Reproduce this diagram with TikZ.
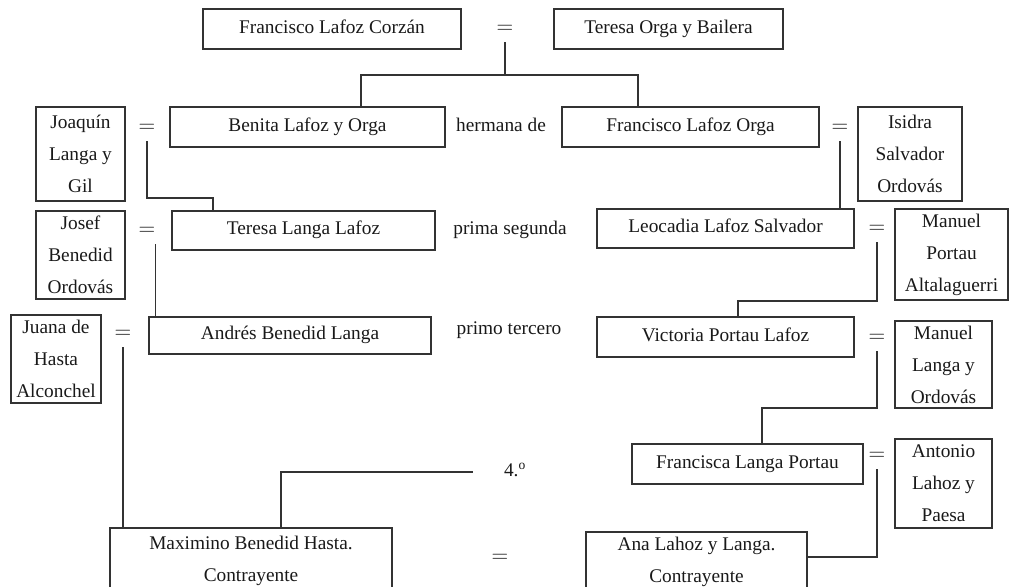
\documentclass[tikz,border=0pt]{standalone}
\usepackage{fontspec}
\setmainfont{Liberation Serif}
\usepackage{tikz}

\begin{document}
\begin{tikzpicture}[x=0.75pt,y=-0.75pt,
  every node/.style={font=\fontsize{14.5}{24}\selectfont, text=black!90},
  person/.style={draw=black!80, line width=0.8pt, inner sep=0pt, align=center},
  oneline/.style={text height=0.66em, text depth=0pt},
  eq/.style={inner sep=0pt, minimum height=19.5pt, minimum width=12pt, font=\fontsize{17}{20}\selectfont},
  link/.style={draw=black!80, line width=0.8pt}]
  \useasboundingbox (0,0) rectangle (1009,586);
  \clip (0,0) rectangle (1009,586);

  \node[person, oneline, minimum width=193.5pt, minimum height=30pt] (fLC) at (332,29) {Francisco Lafoz Corzán};
  \node[person, oneline, minimum width=171.75pt, minimum height=30pt] (tOB) at (668.5,29) {Teresa Orga y Bailera};
  \node[person, oneline, minimum width=206.25pt, minimum height=30pt] (bLO) at (307.5,127) {Benita Lafoz y Orga};
  \node[person, oneline, minimum width=192.75pt, minimum height=30pt] (fLO) at (690.5,127) {Francisco Lafoz Orga};
  \node[person, minimum width=66.75pt, minimum height=70.5pt] (jLG) at (80.5,154) {Joaquín\\Langa y\\Gil};
  \node[person, minimum width=78pt, minimum height=70.5pt] (iSO) at (910,154) {Isidra\\Salvador\\Ordovás};
  \node[person, oneline, minimum width=197.25pt, minimum height=29.25pt] (tLL) at (303.5,230.5) {Teresa Langa Lafoz};
  \node[person, oneline, minimum width=192.75pt, minimum height=29.25pt] (lLS) at (725.5,228.5) {Leocadia Lafoz Salvador};
  \node[person, minimum width=66.75pt, minimum height=66pt] (jBO) at (80.5,255) {Josef\\Benedid\\Ordovás};
  \node[person, minimum width=84.75pt, minimum height=68.25pt] (mPA) at (951.5,254.5) {Manuel\\Portau\\Altalaguerri};
  \node[person, oneline, minimum width=211.5pt, minimum height=27.75pt] (aBL) at (290,335.5) {Andrés Benedid Langa};
  \node[person, minimum width=67.5pt, minimum height=66pt] (jHA) at (56,359) {Juana de\\Hasta\\Alconchel};
  \node[person, oneline, minimum width=192.75pt, minimum height=30pt] (vPL) at (725.5,337) {Victoria Portau Lafoz};
  \node[person, minimum width=72.75pt, minimum height=65.25pt] (mLO) at (943.5,364.5) {Manuel\\Langa y\\Ordovás};
  \node[person, oneline, minimum width=173.25pt, minimum height=30pt] (fLP) at (747.5,464) {Francisca Langa Portau};
  \node[person, minimum width=72.75pt, minimum height=66.75pt] (aLP) at (943.5,483.5) {Antonio\\Lahoz y\\Paesa};
  \node[person, minimum width=211.5pt, minimum height=49.5pt] (mBH) at (251,561) {Maximino Benedid Hasta.\\Contrayente};
  \node[person, minimum width=165.75pt, minimum height=45pt] (aLL) at (696.5,562) {Ana Lahoz y Langa.\\Contrayente};

  \node[eq] (e1) at (505,29) {$=$};
  \node[eq] (e2) at (147,128) {$=$};
  \node[eq] (e3) at (840,128) {$=$};
  \node[eq] (e4) at (147,231) {$=$};
  \node[eq] (e5) at (877,229) {$=$};
  \node[eq] (e6) at (123,334) {$=$};
  \node[eq] (e7) at (877,338) {$=$};
  \node[eq] (e8) at (877,456) {$=$};
  \node[eq] (e9) at (500,558) {$=$};

  \node[oneline] (herm) at (501,127) {hermana de};
  \node[oneline] (prima) at (510,230) {prima segunda};
  \node[oneline] (primo) at (509,330) {primo tercero};
  \node[oneline] (grado) at (515,472) {4.\textsuperscript{o}};
  \coordinate (deg) at (473,472);

  \draw[link] (e1.south) -- (e1.south |- 0,75);
  \draw[link] (361,0 |- bLO.north) -- (361,75) -- (638,75) -- (638,0 |- fLO.north);
  \draw[link] (e2.south) |- (213,198) -- (213,0 |- tLL.north);
  \draw[link] (e3.south) -- (e3.south |- lLS.north);
  \draw[link] (e4.south east) -- (e4.south east |- aBL.north);
  \draw[link] (e5.south) |- (738,301) -- (738,0 |- vPL.north);
  \draw[link] (e6.south) -- (e6.south |- mBH.north);
  \draw[link] (e7.south) |- (762,408) -- (762,0 |- fLP.north);
  \draw[link] (e8.south) |- (aLL.east |- 0,557);
  \draw[link] (281,0 |- mBH.north) |- (deg);
\end{tikzpicture}
\end{document}
